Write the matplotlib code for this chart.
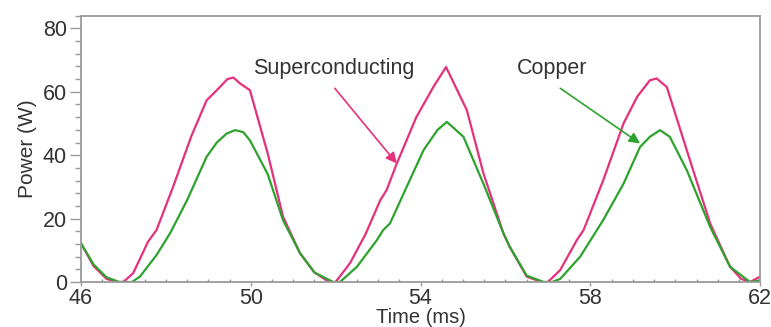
import numpy as np
from matplotlib import pyplot as plt
from matplotlib.ticker import MultipleLocator, FixedLocator

plt.rcParams['font.family'] = ['Liberation Sans', 'DejaVu Sans']

# Superconducting coil power (pink)
t_super = [46.0, 46.3, 46.6, 46.85, 47.0, 47.23, 47.58, 47.78, 48.17, 48.6,
           48.96, 49.2, 49.45, 49.59, 49.75, 49.98, 50.4, 50.76, 51.16, 51.5,
           51.85, 52.0, 52.34, 52.7, 53.05, 53.2, 53.44, 53.9, 54.3, 54.6,
           55.09, 55.48, 55.95, 56.1, 56.5, 56.85, 57.0, 57.29, 57.68, 57.84,
           58.3, 58.78, 59.1, 59.4, 59.56, 59.8, 60.27, 60.82, 61.29, 61.55,
           61.76, 62.0]
p_super = [12.2, 5, 1, 0, 0, 2.8, 12.7, 16.4, 30, 46,
           57.3, 60.5, 64, 64.5, 62.6, 60.5, 40.5, 20.6, 9.1, 3,
           0, 0, 6, 15, 25.8, 29, 37.4, 52, 61.5, 67.8,
           54.2, 34.3, 15.4, 11.1, 1.7, 0, 0, 3.8, 13.2, 16.4,
           32, 50, 58.4, 63.6, 64.2, 61.5, 41.6, 18.5, 4.8, 1,
           0, 1.7]

# Copper coil power (green)
t_copper = [46.0, 46.3, 46.6, 46.9, 47.2, 47.39, 47.78, 48.1, 48.5, 48.96,
            49.2, 49.43, 49.63, 49.82, 49.98, 50.4, 50.76, 51.16, 51.5, 51.94,
            52.1, 52.5, 52.97, 53.12, 53.28, 53.6, 54.07, 54.4, 54.62, 55.01,
            55.48, 55.95, 56.1, 56.5, 56.9, 57.1, 57.29, 57.76, 58.3, 58.78,
            59.17, 59.4, 59.64, 59.87, 60.27, 60.82, 61.29, 61.76, 62.0]
p_copper = [12.2, 5.5, 1.5, 0, 0, 1.7, 8.5, 15.4, 25.8, 39.5,
            44, 46.8, 47.9, 47.3, 44.7, 34, 19.5, 9.1, 3, 0,
            0, 4.8, 13.2, 16.4, 18.5, 27.9, 41.6, 48, 50.5, 45.8,
            31, 15.4, 11.1, 2, 0, 0, 1, 8, 19.5, 31,
            42.6, 45.8, 47.9, 45.8, 35.3, 17.4, 4.8, 0, 0.5]

x_ticks = [46, 50, 54, 58, 62]

pink = '#e5307c'
green = '#2ea22e'
grey = '#9a9a9a'
text_col = '#333333'

fig = plt.figure(figsize=(7.71, 3.27), dpi=100)
ax = fig.add_axes([0.105, 0.1376, 0.881, 0.8144])

ax.plot(t_super, p_super, color=pink, lw=1.6)
ax.plot(t_copper, p_copper, color=green, lw=1.6)

# Labels with arrows
ax.annotate('Superconducting', xy=(53.44, 37.4), xytext=(50.05, 67.4),
            fontsize=15.5, color=text_col, va='center', ha='left')
ax.annotate('', xy=(53.44, 37.4), xytext=(51.98, 61.1),
            arrowprops=dict(arrowstyle='-|>', color=pink, lw=1.2,
                            mutation_scale=16, shrinkA=0, shrinkB=0))
ax.annotate('Copper', xy=(59.17, 43.7), xytext=(56.27, 67.4),
            fontsize=15.5, color=text_col, va='center', ha='left')
ax.annotate('', xy=(59.17, 43.7), xytext=(57.29, 61.1),
            arrowprops=dict(arrowstyle='-|>', color=green, lw=1.2,
                            mutation_scale=16, shrinkA=0, shrinkB=0))

ax.set_xlim(46, 62)
ax.set_ylim(0, 84)
ax.xaxis.set_major_locator(FixedLocator(x_ticks))
ax.xaxis.set_minor_locator(MultipleLocator(0.5))
ax.yaxis.set_major_locator(MultipleLocator(20))
ax.yaxis.set_minor_locator(MultipleLocator(4))

ax.tick_params(axis='y', which='major', direction='out', length=8, width=1,
               color=grey, labelsize=15.5, labelcolor=text_col, pad=2)
ax.tick_params(axis='y', which='minor', direction='out', length=4, width=1,
               color=grey)
ax.tick_params(axis='x', which='major', direction='out', length=3, width=1,
               color=grey, labelsize=15.5, labelcolor=text_col, pad=1)
ax.tick_params(axis='x', which='minor', direction='in', length=2.5, width=1,
               color=grey)

for s in ax.spines.values():
    s.set_color(grey)
    s.set_linewidth(1.3)

ax.set_xlabel('Time (ms)', fontsize=14.5, color=text_col, va='center')
ax.xaxis.set_label_coords(0.5, -0.132)
ax.set_ylabel('Power (W)', fontsize=15, color=text_col, labelpad=4)

fig.savefig('out.png', dpi=100)
